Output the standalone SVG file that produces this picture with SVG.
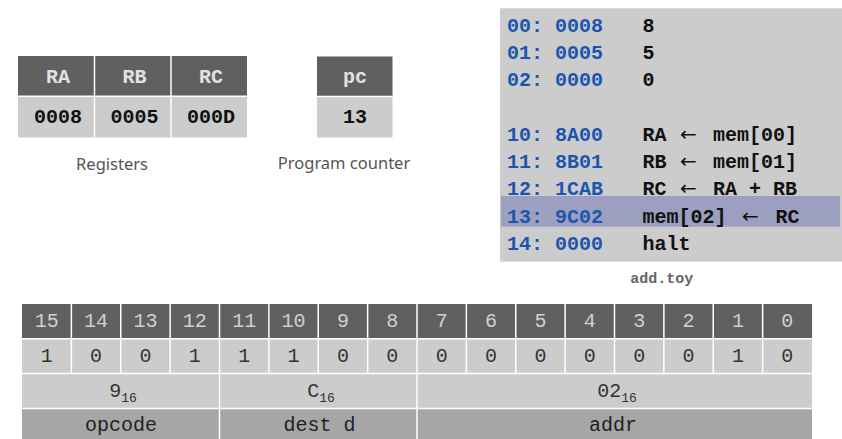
<svg xmlns="http://www.w3.org/2000/svg" width="842" height="439" viewBox="0 0 842 439">
  <style>
    .mono { font-family: "Liberation Mono", "Courier New", monospace; }
    .hdr { fill: #606060; }
    .val { fill: #cccccc; }
    .fld { fill: #a6a6a6; }
    .sep { stroke: #ffffff; stroke-width: 1.5; }
    .hdrtxt { font-family: "Liberation Mono", "Courier New", monospace; font-size: 20px; font-weight: bold; fill: #e2e2e2; text-anchor: middle; }
    .valtxt { font-family: "Liberation Mono", "Courier New", monospace; font-size: 20px; font-weight: bold; fill: #111111; text-anchor: middle; }
    .caption { font-family: "Noto Sans", "DejaVu Sans", sans-serif; font-size: 16.5px; fill: #555555; text-anchor: middle; }
    .addr { font-family: "Liberation Mono", "Courier New", monospace; font-size: 20px; font-weight: bold; fill: #1c55b0; }
    .ins { font-family: "Liberation Mono", "Courier New", monospace; font-size: 20px; font-weight: bold; fill: #111111; }
    .arr { font-family: "DejaVu Sans", sans-serif; font-weight: normal; }
    .bithdr { font-family: "Liberation Mono", "Courier New", monospace; font-size: 20px; fill: #d0d0d0; text-anchor: middle; }
    .bitval { font-family: "Liberation Mono", "Courier New", monospace; font-size: 20px; fill: #333333; text-anchor: middle; }
    .sub { font-size: 13px; }
  </style>

  <!-- Register file -->
  <g id="registers">
    <rect class="hdr" x="18" y="56" width="229" height="40.3"/>
    <rect class="val" x="18" y="96.3" width="229" height="41"/>
    <line class="sep" x1="18" y1="96.3" x2="247" y2="96.3"/>
    <line class="sep" x1="94.5" y1="56" x2="94.5" y2="137.3"/>
    <line class="sep" x1="171" y1="56" x2="171" y2="137.3"/>
    <line x1="18" y1="137.5" x2="247" y2="137.5" stroke="#e8e8e8" stroke-width="1"/>
    <text class="hdrtxt" x="58" y="82.7">RA</text>
    <text class="hdrtxt" x="134.5" y="82.7">RB</text>
    <text class="hdrtxt" x="211" y="82.7">RC</text>
    <text class="valtxt" x="58" y="123.3">0008</text>
    <text class="valtxt" x="134.5" y="123.3">0005</text>
    <text class="valtxt" x="211" y="123.3">000D</text>
    <text class="caption" x="112" y="169.5">Registers</text>
  </g>

  <!-- Program counter -->
  <g id="pc">
    <rect class="hdr" x="317" y="56.5" width="75.5" height="40"/>
    <rect class="val" x="317" y="96.5" width="75.5" height="40.8"/>
    <line class="sep" x1="317" y1="96.5" x2="392.5" y2="96.5"/>
    <line x1="317" y1="137.5" x2="392.5" y2="137.5" stroke="#e8e8e8" stroke-width="1"/>
    <text class="hdrtxt" x="355" y="82.7">pc</text>
    <text class="valtxt" x="355" y="123.3">13</text>
    <text class="caption" x="344" y="168.5">Program counter</text>
  </g>

  <!-- Memory listing of add.toy -->
  <g id="memory">
    <rect x="500" y="8.3" width="342" height="253.4" fill="#cccccc"/>
    <rect x="501" y="196" width="339" height="30.7" fill="#9c9fbf"/>
    <text class="addr" x="507" y="31.5">00: 0008</text>
    <text class="ins" x="642.5" y="31.5">8</text>
    <text class="addr" x="507" y="58.8">01: 0005</text>
    <text class="ins" x="642.5" y="58.8">5</text>
    <text class="addr" x="507" y="86.1">02: 0000</text>
    <text class="ins" x="642.5" y="86.1">0</text>
    <text class="addr" x="507" y="140.7">10: 8A00</text>
    <text class="ins" y="140.7"><tspan x="642.5">RA</tspan><tspan class="arr" x="680">←</tspan><tspan x="713">mem[00]</tspan></text>
    <text class="addr" x="507" y="168">11: 8B01</text>
    <text class="ins" y="168"><tspan x="642.5">RB</tspan><tspan class="arr" x="680">←</tspan><tspan x="713">mem[01]</tspan></text>
    <text class="addr" x="507" y="195.3">12: 1CAB</text>
    <text class="ins" y="195.3"><tspan x="642.5">RC</tspan><tspan class="arr" x="680">←</tspan><tspan x="713">RA + RB</tspan></text>
    <text class="addr" x="507" y="222.6">13: 9C02</text>
    <text class="ins" y="222.6"><tspan x="642.5">mem[02]</tspan><tspan class="arr" x="742">←</tspan><tspan x="775.5">RC</tspan></text>
    <text class="addr" x="507" y="249.9">14: 0000</text>
    <text class="ins" x="642.5" y="249.9">halt</text>
    <text class="mono" x="661.7" y="283.3" font-size="15" font-weight="bold" fill="#666666" text-anchor="middle">add.toy</text>
  </g>

  <!-- Instruction word layout: bit numbers, bits, hex digits, fields -->
  <g id="instruction">
    <rect class="hdr" x="22" y="304" width="790" height="34.8"/>
    <rect class="val" x="22" y="338.8" width="790" height="69.6"/>
    <rect class="fld" x="22" y="408.4" width="790" height="34.8"/>
    <g class="sep">
      <line x1="22" y1="338.8" x2="812" y2="338.8"/>
      <line x1="22" y1="373.6" x2="812" y2="373.6"/>
      <line x1="22" y1="408.4" x2="812" y2="408.4"/>
      <!-- per-bit dividers in the top two rows -->
      <line x1="71.375" y1="304" x2="71.375" y2="373.6"/>
      <line x1="120.75" y1="304" x2="120.75" y2="373.6"/>
      <line x1="170.125" y1="304" x2="170.125" y2="373.6"/>
      <line x1="268.875" y1="304" x2="268.875" y2="373.6"/>
      <line x1="318.25" y1="304" x2="318.25" y2="373.6"/>
      <line x1="367.625" y1="304" x2="367.625" y2="373.6"/>
      <line x1="466.375" y1="304" x2="466.375" y2="373.6"/>
      <line x1="515.75" y1="304" x2="515.75" y2="373.6"/>
      <line x1="565.125" y1="304" x2="565.125" y2="373.6"/>
      <line x1="614.5" y1="304" x2="614.5" y2="373.6"/>
      <line x1="663.875" y1="304" x2="663.875" y2="373.6"/>
      <line x1="713.25" y1="304" x2="713.25" y2="373.6"/>
      <line x1="762.625" y1="304" x2="762.625" y2="373.6"/>
      <!-- field dividers through all rows -->
      <line x1="219.5" y1="304" x2="219.5" y2="443"/>
      <line x1="417" y1="304" x2="417" y2="443"/>
    </g>
    <g class="bithdr">
      <text x="46.7" y="326.5">15</text>
      <text x="96.1" y="326.5">14</text>
      <text x="145.4" y="326.5">13</text>
      <text x="194.8" y="326.5">12</text>
      <text x="244.2" y="326.5">11</text>
      <text x="293.6" y="326.5">10</text>
      <text x="342.9" y="326.5">9</text>
      <text x="392.3" y="326.5">8</text>
      <text x="441.7" y="326.5">7</text>
      <text x="491.1" y="326.5">6</text>
      <text x="540.4" y="326.5">5</text>
      <text x="589.8" y="326.5">4</text>
      <text x="639.2" y="326.5">3</text>
      <text x="688.6" y="326.5">2</text>
      <text x="737.9" y="326.5">1</text>
      <text x="787.3" y="326.5">0</text>
    </g>
    <g class="bitval">
      <text x="46.7" y="361.7">1</text>
      <text x="96.1" y="361.7">0</text>
      <text x="145.4" y="361.7">0</text>
      <text x="194.8" y="361.7">1</text>
      <text x="244.2" y="361.7">1</text>
      <text x="293.6" y="361.7">1</text>
      <text x="342.9" y="361.7">0</text>
      <text x="392.3" y="361.7">0</text>
      <text x="441.7" y="361.7">0</text>
      <text x="491.1" y="361.7">0</text>
      <text x="540.4" y="361.7">0</text>
      <text x="589.8" y="361.7">0</text>
      <text x="639.2" y="361.7">0</text>
      <text x="688.6" y="361.7">0</text>
      <text x="737.9" y="361.7">1</text>
      <text x="787.3" y="361.7">0</text>
      <text x="123" y="396.6">9<tspan class="sub" dy="5">16</tspan></text>
      <text x="321" y="396.6">C<tspan class="sub" dy="5">16</tspan></text>
      <text x="617" y="396.6">02<tspan class="sub" dy="5">16</tspan></text>
    </g>
    <g class="bitval" fill="#222222">
      <text x="121" y="430.7" fill="#222222">opcode</text>
      <text x="319.5" y="430.7" fill="#222222">dest d</text>
      <text x="613" y="430.7" fill="#222222">addr</text>
    </g>
  </g>
</svg>
